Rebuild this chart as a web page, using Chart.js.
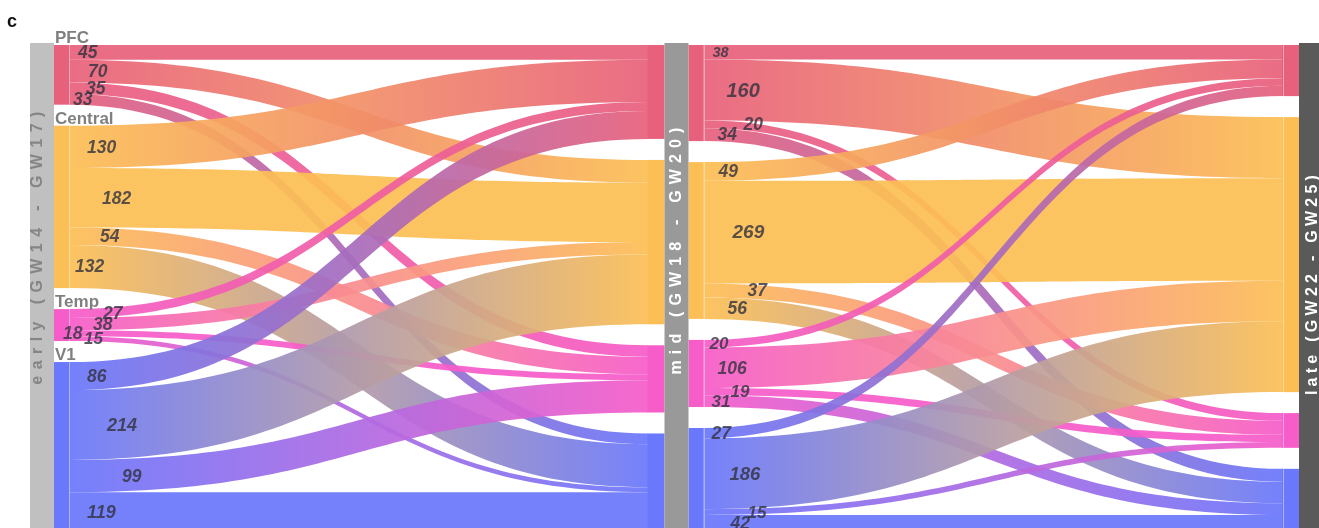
<!DOCTYPE html>
<html>
<head>
<meta charset="utf-8">
<script src="https://cdn.jsdelivr.net/npm/chart.js@4.4.1/dist/chart.umd.min.js"></script>
<style>
  html, body { margin: 0; padding: 0; background: #fff; overflow: hidden; }
  #wrap { width: 1319px; height: 528px; overflow: hidden; }
</style>
</head>
<body>
<div id="wrap"><canvas id="flowChart" width="1319" height="560"></canvas></div>
<script>
/* ---------- DATA ---------- */
const stageNames = ["early (GW14 - GW17)", "mid (GW18 - GW20)", "late (GW22 - GW25)"];
const regions = ["PFC", "Central", "Temp", "V1"];

// rows = source region, columns = target region (PFC, Central, Temp, V1)
const earlyToMid = [
  [45, 70, 35, 33],
  [130, 182, 54, 132],
  [27, 38, 18, 15],
  [86, 214, 99, 119]
];
const midToLate = [
  [38, 160, 20, 34],
  [49, 269, 37, 56],
  [20, 106, 19, 31],
  [27, 186, 15, 42]
];

/* ---------- STYLE ---------- */
const regionColors = ["#e8617c", "#fcbf55", "#f65dc9", "#6a78fb"];
const FLOW_ALPHA = 0.93;
const barColors = ["#c0c0c0", "#999999", "#5a5a5a"];
const barTextColors = ["#858585", "#ffffff", "#ffffff"];
const barTextLength = [273, 247, 220];          // px, letter-spaced title length
const barTextCenter = [0.418, 0.424, 0.494];   // in y-scale units
const barTextShift = [-4, 0, 2];
const GAP = 0.0432;          // gap between nodes, y-scale units
const BAR_HALF = 12;
const NODE_W = 16;

// label x nudges (px) and font sizes for the value labels
const labelDx = [
  [[8, 18, 16, 3], [17, 32, 30, 5], [33, 23, -7, 14], [17, 37, 52, 17]],
  [[8, 22, 39, 13], [14, 28, 43, 23], [5, 13, 26, 7], [7, 25, 43, 26]]
];
const labelSize = [
  [[17.5, 17.5, 17.5, 17.5], [17.5, 17.5, 17.5, 17.5], [17.5, 17.5, 17.5, 17], [17.5, 18, 17.5, 18]],
  [[14.5, 20, 17.5, 17.5], [17.5, 19, 17.5, 17.5], [17, 17.5, 17, 17], [17.5, 18.5, 17, 17.5]]
];

function rgba(hex, a) {
  const n = parseInt(hex.slice(1), 16);
  return "rgba(" + (n >> 16) + "," + ((n >> 8) & 255) + "," + (n & 255) + "," + a + ")";
}

function buildLayout(flows) {
  const total = flows.flat().reduce((a, b) => a + b, 0);
  const k = (1 - 3 * GAP) / total;
  const outTot = flows.map(r => r.reduce((a, b) => a + b, 0));
  const inTot = regions.map((_, j) => flows.reduce((s, r) => s + r[j], 0));
  const src = [], tgt = [];
  let y = 0;
  outTot.forEach((t, i) => { src[i] = [y, y + t * k]; y += t * k + GAP; });
  y = 0;
  inTot.forEach((t, j) => { tgt[j] = [y, y + t * k]; y += t * k + GAP; });
  const tgtCursor = tgt.map(t => t[0]);
  const links = [];
  flows.forEach((row, i) => {
    let sc = src[i][0];
    row.forEach((v, j) => {
      links.push({ i, j, v, s0: sc, s1: sc + v * k, t0: tgtCursor[j], t1: tgtCursor[j] + v * k });
      sc += v * k;
      tgtCursor[j] += v * k;
    });
  });
  return { src, tgt, links };
}

const sankeys = [buildLayout(earlyToMid), buildLayout(midToLate)];

/* ---------- SANKEY PLUGIN ---------- */
const sankeyPlugin = {
  id: "sankey",
  afterDraw(chart) {
    const ctx = chart.ctx;
    const xs = chart.scales.x, ys = chart.scales.y;
    const X = v => xs.getPixelForValue(v);
    const Y = v => ys.getPixelForValue(v);
    ctx.save();

    // nodes (drawn first so flow ends blend into them)
    sankeys.forEach((sk, s) => {
      const xl = X(s) + BAR_HALF;
      const xr = X(s + 1) - BAR_HALF - NODE_W;
      regions.forEach((r, i) => {
        ctx.fillStyle = regionColors[i];
        ctx.fillRect(xl, Y(sk.src[i][0]), NODE_W, Y(sk.src[i][1]) - Y(sk.src[i][0]));
        ctx.fillRect(xr - 1, Y(sk.tgt[i][0]), NODE_W + 1, Y(sk.tgt[i][1]) - Y(sk.tgt[i][0]));
      });
    });

    // flows
    sankeys.forEach((sk, s) => {
      const x0 = X(s) + BAR_HALF + NODE_W;
      const x1 = X(s + 1) - BAR_HALF - NODE_W;
      const xm = (x0 + x1) / 2;
      sk.links.forEach(l => {
        const g = ctx.createLinearGradient(x0, 0, x1, 0);
        g.addColorStop(0, rgba(regionColors[l.i], FLOW_ALPHA));
        g.addColorStop(1, rgba(regionColors[l.j], FLOW_ALPHA));
        ctx.fillStyle = g;
        ctx.beginPath();
        ctx.moveTo(x0, Y(l.s0));
        ctx.bezierCurveTo(xm, Y(l.s0), xm, Y(l.t0), x1, Y(l.t0));
        ctx.lineTo(x1, Y(l.t1));
        ctx.bezierCurveTo(xm, Y(l.t1), xm, Y(l.s1), x0, Y(l.s1));
        ctx.closePath();
        ctx.fill();
      });
    });

    // thin light edge on the flow side of source / final nodes
    ctx.strokeStyle = "rgba(255,255,255,0.45)";
    ctx.lineWidth = 1;
    sankeys.forEach((sk, s) => {
      const xl = X(s) + BAR_HALF + NODE_W - 0.5;
      regions.forEach((r, i) => {
        ctx.beginPath();
        ctx.moveTo(xl, Y(sk.src[i][0]));
        ctx.lineTo(xl, Y(sk.src[i][1]));
        if (s === 1) {
          const xr = X(2) - BAR_HALF - NODE_W + 0.5;
          ctx.moveTo(xr, Y(sk.tgt[i][0]));
          ctx.lineTo(xr, Y(sk.tgt[i][1]));
        }
        ctx.stroke();
      });
    });

    // stage bars with rotated, letter-spaced titles
    stageNames.forEach((name, s) => {
      ctx.fillStyle = barColors[s];
      ctx.fillRect(X(s) - BAR_HALF, Y(0) - 2, BAR_HALF * 2, chart.height);
      ctx.save();
      ctx.translate(X(s) + barTextShift[s], Y(barTextCenter[s]));
      ctx.rotate(-Math.PI / 2);
      ctx.font = "bold 16px 'Liberation Sans', Arial, sans-serif";
      ctx.fillStyle = barTextColors[s];
      ctx.textBaseline = "middle";
      ctx.textAlign = "left";
      const chars = name.split("");
      const widths = chars.map(c => ctx.measureText(c).width);
      const sum = widths.reduce((a, b) => a + b, 0);
      const spacing = (barTextLength[s] - sum) / (chars.length - 1);
      let cx = -barTextLength[s] / 2;
      chars.forEach((c, n) => {
        ctx.fillText(c, cx, 0);
        cx += widths[n] + spacing;
      });
      ctx.restore();
    });

    // value labels
    ctx.textBaseline = "middle";
    ctx.textAlign = "left";
    ctx.fillStyle = "rgba(50,50,62,0.8)";
    sankeys.forEach((sk, s) => {
      const x0 = X(s) + BAR_HALF + NODE_W;
      sk.links.forEach(l => {
        ctx.font = "italic bold " + labelSize[s][l.i][l.j] + "px 'Liberation Sans', Arial, sans-serif";
        ctx.fillText(String(l.v), x0 + labelDx[s][l.i][l.j], (Y(l.s0) + Y(l.s1)) / 2 + 1);
      });
    });

    // region names at the early nodes
    ctx.font = "bold 17px 'Liberation Sans', Arial, sans-serif";
    ctx.fillStyle = "#808080";
    ctx.textBaseline = "alphabetic";
    regions.forEach((r, i) => {
      ctx.fillText(r, X(0) + BAR_HALF + 1, Y(sankeys[0].src[i][0]) - 2);
    });

    // panel letter
    ctx.font = "bold 18px 'Liberation Sans', Arial, sans-serif";
    ctx.fillStyle = "#111";
    ctx.fillText("c", 7, 27);

    ctx.restore();
  }
};

/* ---------- CHART ---------- */
document.addEventListener("DOMContentLoaded", function () {
  const ctx = document.getElementById("flowChart").getContext("2d");
  new Chart(ctx, {
    type: "scatter",
    data: { datasets: [] },
    options: {
      responsive: false,
      animation: false,
      layout: { padding: { left: 42, right: 8, top: 45, bottom: 29 } },
      scales: {
        x: { type: "linear", min: 0, max: 2, display: false },
        y: { type: "linear", min: 0, max: 1, reverse: true, display: false }
      },
      plugins: { legend: { display: false }, tooltip: { enabled: false } }
    },
    plugins: [sankeyPlugin]
  });
});
</script>
</body>
</html>
